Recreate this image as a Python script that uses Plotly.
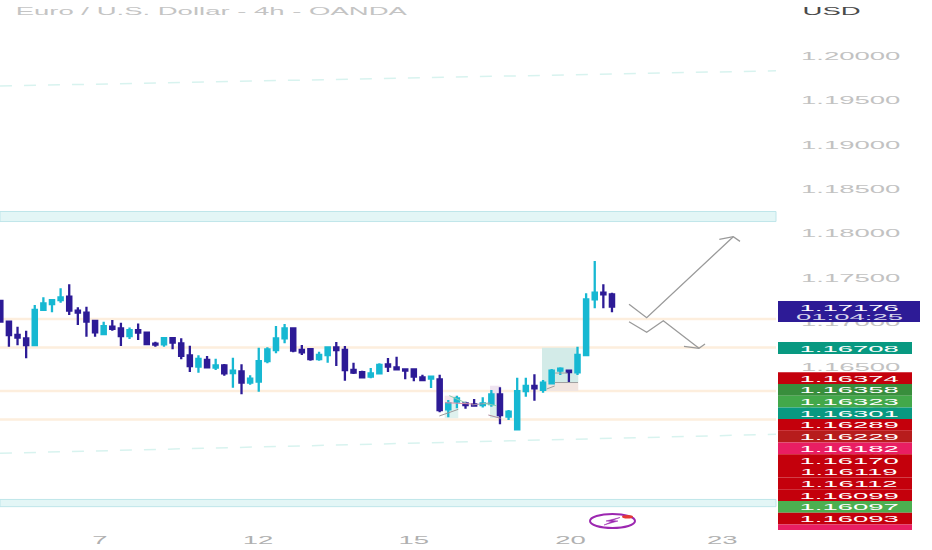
import plotly.graph_objects as go

opens = [1.17241,1.17008,1.16858,1.16821,1.16745,1.17140,1.17207,1.17252,1.17290,1.17132,1.17110,1.17016,
         1.16869,1.16952,1.16933,1.16847,1.16914,1.16884,1.16761,1.16753,1.16824,1.16764,1.16629,1.16501,
         1.16577,1.16490,1.16516,1.16430,1.16449,1.16321,1.16333,1.16565,1.16689,1.16820,1.16933,1.16689,
         1.16700,1.16588,1.16633,1.16719,1.16689,1.16464,1.16441,1.16389,1.16426,1.16528,1.16494,1.16471,
         1.16471,1.16381,1.16366,1.16359,1.16021,1.16107,1.16088,1.16077,1.16070,1.16081,1.16190,1.15938,
         1.15796,1.16227,1.16284,1.16239,1.16314,1.16456,1.16456,1.16438,1.16633,1.17260,1.17335,1.17316]
highs = [1.17241,1.17012,1.16952,1.16907,1.17196,1.17282,1.17252,1.17384,1.17429,1.17170,1.17177,1.17027,
         1.17008,1.17027,1.16997,1.16944,1.16989,1.16896,1.16783,1.16832,1.16832,1.16821,1.16738,1.16629,
         1.16622,1.16592,1.16531,1.16603,1.16528,1.16404,1.16715,1.16719,1.16959,1.16982,1.16933,1.16745,
         1.16708,1.16670,1.16727,1.16779,1.16734,1.16546,1.16456,1.16486,1.16539,1.16599,1.16614,1.16479,
         1.16471,1.16411,1.16396,1.16411,1.16126,1.16175,1.16107,1.16137,1.16156,1.16239,1.16269,1.16013,
         1.16378,1.16378,1.16415,1.16351,1.16475,1.16494,1.16471,1.16727,1.17327,1.17691,1.17429,1.17335]
lows = [1.17008,1.16727,1.16742,1.16595,1.16745,1.17140,1.17113,1.17222,1.17083,1.16971,1.16839,1.16839,
        1.16858,1.16907,1.16734,1.16813,1.16802,1.16742,1.16727,1.16727,1.16697,1.16584,1.16441,1.16434,
        1.16486,1.16464,1.16400,1.16265,1.16190,1.16299,1.16220,1.16539,1.16652,1.16764,1.16663,1.16633,
        1.16569,1.16569,1.16546,1.16509,1.16344,1.16419,1.16370,1.16370,1.16419,1.16441,1.16460,1.16359,
        1.16336,1.16336,1.16261,1.15987,1.15931,1.16032,1.16028,1.16058,1.16043,1.16051,1.15852,1.15901,
        1.15796,1.16164,1.16118,1.16209,1.16302,1.16408,1.16325,1.16408,1.16633,1.17158,1.17158,1.17113]
closes = [1.17008,1.16858,1.16828,1.16745,1.17140,1.17215,1.17252,1.17282,1.17132,1.17110,1.17008,1.16888,
          1.16959,1.16926,1.16847,1.16914,1.16884,1.16757,1.16749,1.16824,1.16772,1.16622,1.16509,1.16588,
          1.16494,1.16516,1.16426,1.16456,1.16321,1.16366,1.16565,1.16697,1.16820,1.16933,1.16682,1.16663,
          1.16588,1.16633,1.16719,1.16689,1.16464,1.16434,1.16381,1.16426,1.16520,1.16501,1.16471,1.16456,
          1.16389,1.16351,1.16389,1.16013,1.16088,1.16145,1.16070,1.16062,1.16088,1.16190,1.15957,1.15995,
          1.16227,1.16284,1.16257,1.16321,1.16456,1.16479,1.16441,1.16633,1.17260,1.17335,1.17316,1.17177]

price_ticks = [1.20, 1.195, 1.19, 1.185, 1.18, 1.175, 1.17, 1.165, 1.16, 1.155, 1.15]
date_pos = [11.57, 29.91, 48.0, 66.2, 83.8]
date_labels = ["7", "12", "15", "20", "23"]

support_levels = [1.17038, 1.16717, 1.16227, 1.15906]
zones = [(1.18249, 1.18136), (1.15006, 1.14925)]
channel_lines = [([-0.04, 90.04], [1.19662, 1.19834]), ([-0.04, 90.04], [1.15526, 1.15740])]

arrow_up_x = [72.98, 75.03, 85.08]
arrow_up_y = [1.17204, 1.17053, 1.17965]
arrow_up_head_x = [83.46, 85.08, 85.86]
arrow_up_head_y = [1.17936, 1.17965, 1.17913]
arrow_down_x = [72.98, 75.03, 76.96, 81.10]
arrow_down_y = [1.17008, 1.16889, 1.17019, 1.16708]
arrow_down_head_x = [79.36, 81.10, 81.80]
arrow_down_head_y = [1.16731, 1.16708, 1.16757]

# x0, x1, y0, y1, colour
position_boxes = [
    (62.88, 67.09, 1.16715, 1.16325, "#d3ebe8"),
    (62.88, 67.09, 1.16325, 1.16227, "#f1e5e0"),
    (51.58, 53.16, 1.16175, 1.16089, "#f5e6ea"),
    (51.58, 53.16, 1.16089, 1.15921, "#dff1ee"),
    (56.84, 58.08, 1.16287, 1.16078, "#efe4f0"),
    (56.84, 58.08, 1.16078, 1.15923, "#dcefec"),
]
# x0, x1, y0, y1, colour
small_lines = [
    (50.96, 53.16, 1.15946, 1.16021, "#9a9a9a"),
    (52.12, 54.14, 1.16175, 1.16089, "#8fcfb0"),
    (51.62, 54.87, 1.16096, 1.16081, "#d88fa8"),
    (54.72, 56.84, 1.16070, 1.16093, "#a58fa8"),
    (56.07, 57.62, 1.16089, 1.16062, "#8fcfb0"),
    (56.65, 58.08, 1.15957, 1.15920, "#b08a9a"),
    (64.35, 67.06, 1.16323, 1.16323, "#a0a0a0"),
    (63.42, 64.35, 1.16250, 1.16284, "#a0a0a0"),
    (64.40, 65.80, 1.16430, 1.16430, "#a0a0a0"),
]

last_price = "1.17176"
countdown = "01:04:25"
green_tag = "1.16708"
tag_labels = ["1.16374", "1.16358", "1.16323", "1.16301", "1.16289", "1.16229", "1.16182",
              "1.16170", "1.16119", "1.16112", "1.16099", "1.16097", "1.16093", ""]
tag_colors = ["#c4000c", "#388e3c", "#43a84a", "#089981", "#c4000c", "#b71c1c", "#e91e63",
              "#c4000c", "#c4000c", "#c4000c", "#c4000c", "#4caf50", "#c4000c", "#e91e63"]

DARK = "#2d1b96"
TEAL = "#17b8d2"
GRAY = "#c2c2c2"
PLOT_W = 776
PLOT_H = 530


def pxx(x):
    return x / PLOT_W


def pxy(y):
    return (PLOT_H - y) / PLOT_H


def page_rect(x0, x1, y0, y1, color):
    return dict(type="rect", xref="paper", yref="paper", x0=pxx(x0), x1=pxx(x1), y0=pxy(y0), y1=pxy(y1),
                fillcolor=color, line_width=0, layer="above")


def page_text(text, x, y, color, size=11):
    return dict(text=text, xref="paper", yref="paper", x=pxx(x), y=pxy(y), xanchor="center", yanchor="middle",
                showarrow=False, font=dict(family="Liberation Sans", size=size, color=color))


fig = go.Figure()
fig.add_trace(go.Candlestick(x=list(range(len(opens))), open=opens, high=highs, low=lows, close=closes,
                             increasing=dict(line=dict(color=TEAL, width=2.3), fillcolor=TEAL),
                             decreasing=dict(line=dict(color=DARK, width=2.3), fillcolor=DARK),
                             whiskerwidth=0, hoverinfo="none", showlegend=False))

shapes = []
for z in zones:
    shapes.append(dict(type="rect", xref="paper", yref="y", x0=0, x1=1, y0=z[0], y1=z[1], fillcolor="#e3f6f6",
                       line=dict(color="#bfe6ea", width=1), layer="below"))
for lvl in support_levels:
    shapes.append(dict(type="line", xref="paper", yref="y", x0=0, x1=1, y0=lvl, y1=lvl,
                       line=dict(color="#fdeedd", width=2.5), layer="below"))
for cx, cy in channel_lines:
    shapes.append(dict(type="line", x0=cx[0], x1=cx[1], y0=cy[0], y1=cy[1],
                       line=dict(color="#d8f3ef", width=1.5, dash="12px,12px"), layer="below"))
for b in position_boxes:
    shapes.append(dict(type="rect", x0=b[0], x1=b[1], y0=b[2], y1=b[3], fillcolor=b[4], line_width=0, layer="below"))
for s in small_lines:
    shapes.append(dict(type="line", x0=s[0], x1=s[1], y0=s[2], y1=s[3], line=dict(color=s[4], width=1), layer="above"))

# price tags on the right, stacked like the platform does it
annotations = [page_text("Euro / U.S. Dollar - 4h - OANDA", 212, 11, "#c4c4c4"),
               page_text("USD", 831, 11, "#4a4a4a")]
shapes.append(page_rect(778, 920, 301, 322, DARK))
annotations.append(page_text(last_price, 849, 307, "#ffffff", 9.5))
annotations.append(page_text(countdown, 849, 316.5, "#d8d8ee", 9.5))
shapes.append(page_rect(778, 912, 342, 354, "#089981"))
annotations.append(page_text(green_tag, 849, 348.5, "#ffffff", 9.5))
for n, (lab, col) in enumerate(zip(tag_labels, tag_colors)):
    top = 372.3 + n * 11.7
    shapes.append(page_rect(778, 912, top, min(top + 11.7, 530), col))
    if lab:
        annotations.append(page_text(lab, 849, top + 5.9, "#ffffff", 9.5))

# logo at the bottom
shapes.append(dict(type="circle", xref="paper", yref="paper", x0=pxx(590), x1=pxx(635), y0=pxy(514), y1=pxy(528),
                   line=dict(color="#9c27b0", width=2), layer="above"))
shapes.append(dict(type="path", xref="paper", yref="paper",
                   path="M %f %f L %f %f L %f %f L %f %f L %f %f L %f %f Z" % (
                       pxx(620), pxy(517.5), pxx(606), pxy(521), pxx(612), pxy(521.5),
                       pxx(604), pxy(525), pxx(618), pxy(521), pxx(612), pxy(520.5)),
                   fillcolor="#9c27b0", line=dict(color="#9c27b0", width=0.5), layer="above"))
shapes.append(dict(type="circle", xref="paper", yref="paper", x0=pxx(622), x1=pxx(633), y0=pxy(515), y1=pxy(518.5),
                   fillcolor="#e53935", line_width=0, layer="above"))

for ax, ay in [(arrow_up_x, arrow_up_y), (arrow_up_head_x, arrow_up_head_y),
               (arrow_down_x, arrow_down_y), (arrow_down_head_x, arrow_down_head_y)]:
    fig.add_trace(go.Scatter(x=ax, y=ay, mode="lines", line=dict(color="#9a9a9a", width=1.3),
                             hoverinfo="skip", showlegend=False))

fig.update_layout(
    width=932, height=550, autosize=False,
    margin=dict(l=0, r=156, t=0, b=20),
    paper_bgcolor="white", plot_bgcolor="white",
    shapes=shapes, annotations=annotations,
    xaxis=dict(range=[-0.035, 90.04], rangeslider=dict(visible=False), showgrid=False, zeroline=False,
               tickmode="array", tickvals=date_pos, ticktext=date_labels, ticks="", ticklabelstandoff=2,
               tickfont=dict(family="Liberation Sans", size=11, color="#b0b0b0")),
    yaxis=dict(range=[1.14662, 1.20631], side="right", showgrid=False, zeroline=False,
               tickmode="array", tickvals=price_ticks, ticktext=["%.5f" % v for v in price_ticks], ticks="",
               ticklabelstandoff=24, tickfont=dict(family="Liberation Sans", size=11, color=GRAY)),
)

# the reference text is stretched sideways, plotly has no option for it
stretch = """
document.body.style.margin = '0';
setTimeout(function () {
  document.querySelectorAll('.xtick text, .ytick text, .annotation-text').forEach(function (t) {
    var k = 27.5 / parseFloat(getComputedStyle(t).fontSize);
    t.setAttribute('textLength', t.getComputedTextLength() * k);
    t.setAttribute('lengthAdjust', 'spacingAndGlyphs');
  });
}, 100);
"""
fig.write_html("out.html", post_script=stretch, config=dict(displayModeBar=False))
